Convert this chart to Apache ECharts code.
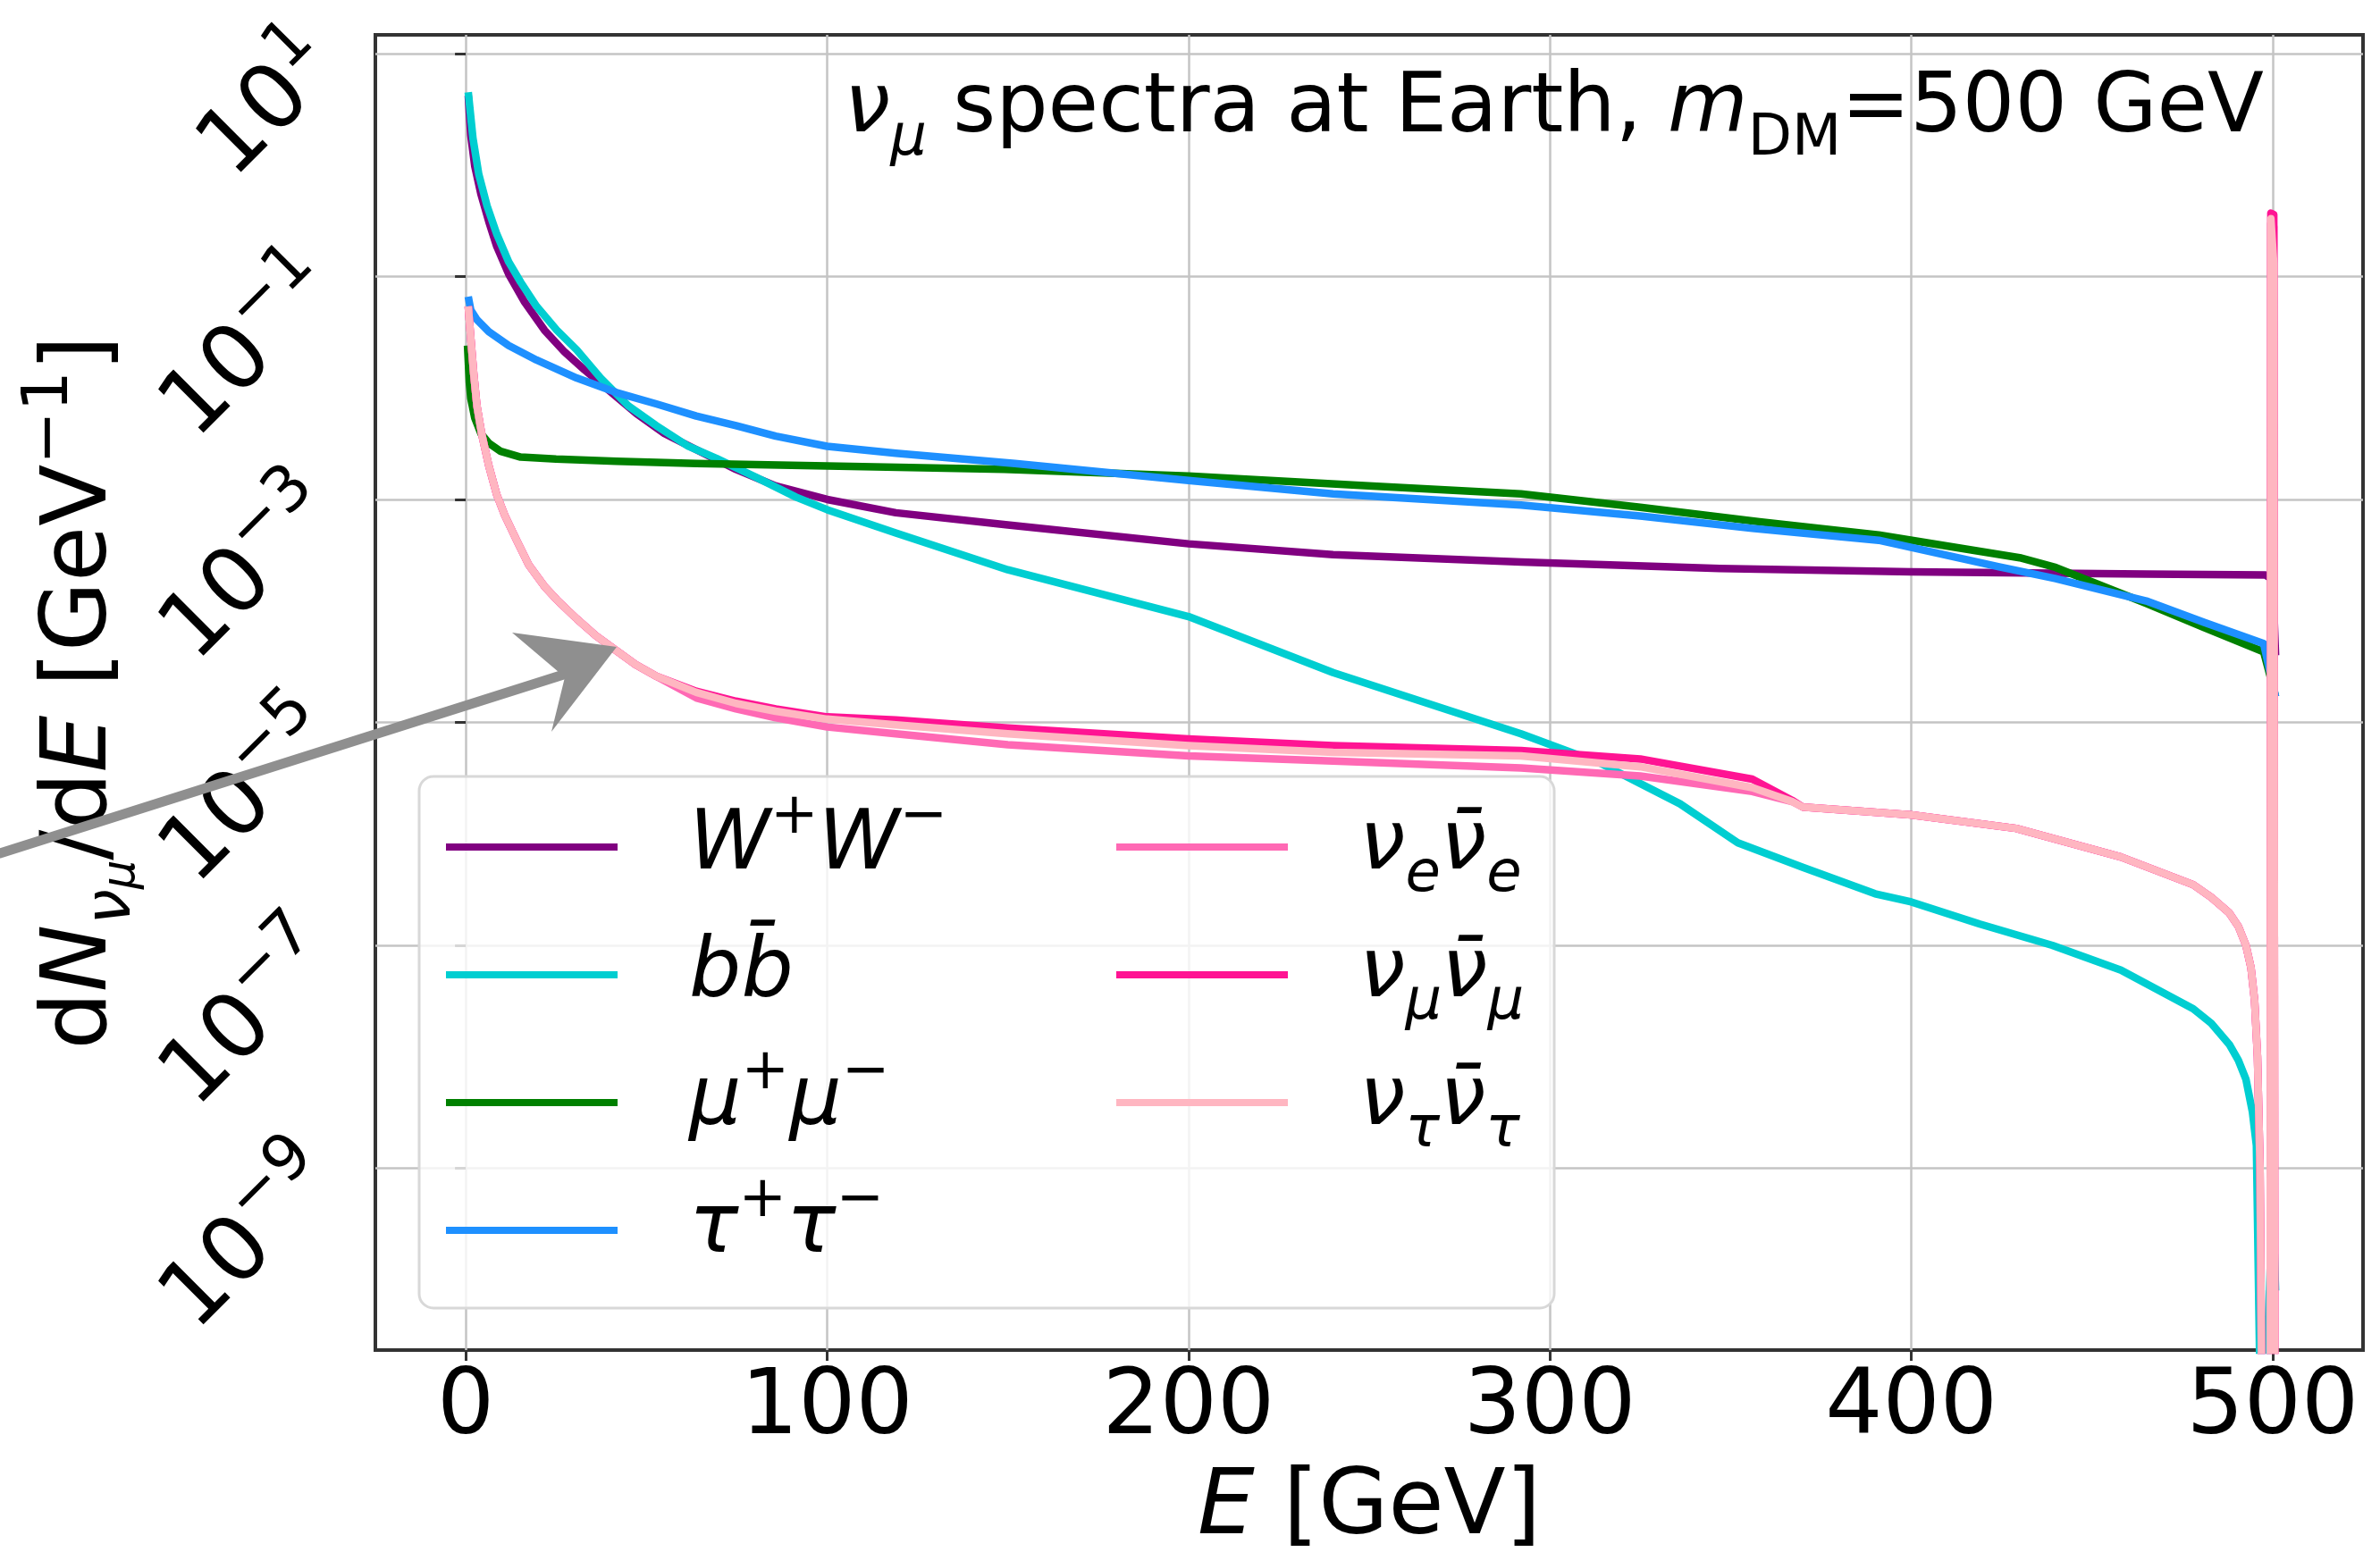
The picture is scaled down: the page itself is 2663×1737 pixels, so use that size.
<!DOCTYPE html>
<html>
<head>
<meta charset="utf-8">
<script src="https://cdn.jsdelivr.net/npm/echarts@6/dist/echarts.min.js"></script>
<style>
html, body { margin: 0; padding: 0; background: #fff; }
#chart { width: 2663px; height: 1737px; }
</style>
</head>
<body>
<div id="chart"></div>
<script>
// E [GeV] and dN/dE [GeV^-1]
var eWW = [0.7, 1.4, 2.5, 4.2, 6.4, 8.6, 11.9, 16.3, 21.8, 27.4, 32.9, 39.5, 47.2, 55, 63.8, 74.8, 85.8, 100,
           119, 150, 200, 240, 292, 347, 400, 465, 498, 500, 500.8];
var yWW = [4.2, 1.86, 0.98, 0.55, 0.31, 0.186, 0.105, 0.059, 0.033, 0.021, 0.0145, 9.6e-3, 5.9e-3, 3.9e-3, 2.8e-3, 1.86e-3, 1.32e-3, 1.0e-3,
           7.6e-4, 5.9e-4, 4.0e-4, 3.2e-4, 2.75e-4, 2.4e-4, 2.24e-4, 2.14e-4, 2.1e-4, 1.9e-4, 4e-5];

var eBB = [0.7, 2.0, 3.6, 5.9, 8.6, 11.9, 15.2, 19.6, 25.2, 30.7, 37.3, 45, 52.7, 61.6, 69.3, 80.3, 91.4, 100,
           119, 150, 200, 240, 292, 314, 336, 352, 370, 390, 400, 419, 439, 458, 478, 483, 488, 490.5, 492.6, 494.4, 495.5,
           497, 500, 500.8];
var yBB = [4.5, 1.74, 0.83, 0.43, 0.24, 0.135, 0.089, 0.054, 0.033, 0.022, 0.0123, 6.9e-3, 4.6e-3, 3.0e-3, 2.34e-3, 1.58e-3, 1.05e-3, 8.1e-4,
           5.0e-4, 2.34e-4, 8.9e-5, 2.8e-5, 7.9e-6, 4.3e-6, 1.86e-6, 8.3e-7, 5.0e-7, 2.9e-7, 2.45e-7, 1.55e-7, 1.0e-7, 6.0e-8, 2.7e-8, 2.0e-8, 1.29e-8, 9.3e-9, 6.3e-9, 3.2e-9, 1.6e-9,
           1e-12, 5e-10, 8e-11];

var eMM = [0.5, 1.0, 1.4, 2.5, 4.2, 6.4, 9.7, 15.2, 25, 41.7, 63.8, 100, 149, 200, 251, 292, 325, 358, 391, 430, 440, 465, 481, 497.5, 500.8];
var yMM = [0.024, 0.0112, 8.1e-3, 5.4e-3, 3.9e-3, 3.2e-3, 2.7e-3, 2.4e-3, 2.3e-3, 2.2e-3, 2.1e-3, 2.0e-3, 1.86e-3, 1.62e-3, 1.32e-3, 1.12e-3,
           8.5e-4, 6.3e-4, 4.8e-4, 3.0e-4, 2.45e-4, 1.17e-4, 7.1e-5, 4.3e-5, 1.7e-5];

var eTT = [0.7, 1.4, 3.1, 6.4, 11.9, 19.6, 30.7, 41.7, 52.7, 63.8, 74.8, 85.8, 100, 119, 152, 200, 240, 292, 325, 356, 391, 424, 440, 465, 481, 497.5, 500.8];
var yTT = [0.066, 0.050, 0.041, 0.032, 0.024, 0.0178, 0.0123, 9.1e-3, 7.2e-3, 5.6e-3, 4.6e-3, 3.7e-3, 3.0e-3, 2.6e-3, 2.1e-3, 1.48e-3, 1.12e-3,
           8.9e-4, 7.1e-4, 5.5e-4, 4.3e-4, 2.5e-4, 1.95e-4, 1.23e-4, 7.9e-5, 5.1e-5, 1.7e-5];

// the three neutrino channels share one energy grid
var eNu = [0.7, 1.4, 2.2, 3.1, 4.4, 6.4, 8.6, 10.8, 14.1, 17.4, 21.8, 25.2, 30.7, 36, 41.7, 47, 52.7,
           63.8, 74.8, 85.8, 100, 119, 150, 200, 240, 292, 325, 356, 367,
           370, 400, 429, 458, 478, 483, 488, 490.5, 492.6, 494, 495, 495.8, 496.5, 497.2, 499.3, 499.5, 500.3, 500.6];
var yNuE = [0.054, 0.028, 0.0135, 6.9e-3, 3.9e-3, 2.0e-3, 1.1e-3, 7.2e-4, 4.3e-4, 2.6e-4, 1.66e-4, 1.26e-4, 8.5e-5, 6.0e-5, 4.4e-5, 3.3e-5, 2.6e-5,
            1.66e-5, 1.32e-5, 1.1e-5, 9.1e-6, 7.9e-6, 6.3e-6, 5.0e-6, 4.5e-6, 3.9e-6, 3.3e-6, 2.4e-6, 1.95e-6,
            1.74e-6, 1.48e-6, 1.12e-6, 6.2e-7, 3.5e-7, 2.7e-7, 1.95e-7, 1.48e-7, 1.0e-7, 6.3e-8, 3.2e-8, 1.0e-8, 1.0e-9, 1e-12, 1e-12, 0.30, 0.28, 1e-12];
var yNuMu = [0.054, 0.028, 0.0135, 6.9e-3, 3.9e-3, 2.0e-3, 1.1e-3, 7.2e-4, 4.3e-4, 2.6e-4, 1.66e-4, 1.26e-4, 8.5e-5, 6.0e-5, 4.4e-5, 3.3e-5, 2.6e-5,
             1.9e-5, 1.55e-5, 1.32e-5, 1.12e-5, 1.05e-5, 8.9e-6, 7.1e-6, 6.2e-6, 5.6e-6, 4.7e-6, 3.1e-6, 2.0e-6,
             1.74e-6, 1.48e-6, 1.12e-6, 6.2e-7, 3.5e-7, 2.7e-7, 1.95e-7, 1.48e-7, 1.0e-7, 6.3e-8, 3.2e-8, 1.0e-8, 1.0e-9, 1e-12, 1e-12, 0.37, 0.36, 1e-12];
var yNuTau = [0.054, 0.028, 0.0135, 6.9e-3, 3.9e-3, 2.0e-3, 1.1e-3, 7.2e-4, 4.3e-4, 2.6e-4, 1.66e-4, 1.26e-4, 8.5e-5, 6.0e-5, 4.4e-5, 3.3e-5, 2.6e-5,
              1.86e-5, 1.48e-5, 1.26e-5, 1.07e-5, 9.5e-6, 7.9e-6, 6.2e-6, 5.4e-6, 5.0e-6, 4.0e-6, 2.6e-6, 1.95e-6,
              1.74e-6, 1.48e-6, 1.12e-6, 6.2e-7, 3.5e-7, 2.7e-7, 1.95e-7, 1.48e-7, 1.0e-7, 6.3e-8, 3.2e-8, 1.0e-8, 1.0e-9, 1e-12, 1e-12, 0.33, 0.13, 1e-12];

var xTicks = [0, 100, 200, 300, 400, 500];
var yTicks = [1e1, 1e-1, 1e-3, 1e-5, 1e-7, 1e-9];

var FONT = 'DejaVu Sans';

// rich styles: base text, italic, super/subscripts
function richSet(F) {
	var L = Math.round(F * 1.4), s = Math.round(F * 0.7);
	var base = { fontFamily: FONT, fontSize: F, lineHeight: L, color: '#000', fontWeight: 'normal' };
	return {
		t: base,
		i: Object.assign({}, base, { fontStyle: 'italic' }),
		i0: Object.assign({}, base, { fontStyle: 'italic', padding: [0, 0, 0, 75] }),
		sup: { fontFamily: FONT, fontSize: s, lineHeight: s, verticalAlign: 'top', color: '#000' },
		sub: { fontFamily: FONT, fontSize: s, lineHeight: s, verticalAlign: 'bottom', color: '#000' },
		si: { fontFamily: FONT, fontSize: s, lineHeight: s, verticalAlign: 'bottom', fontStyle: 'italic', color: '#000' },
		ss: { fontFamily: FONT, fontSize: Math.round(F * 0.5), lineHeight: Math.round(F * 0.4), verticalAlign: 'bottom', fontStyle: 'italic', color: '#000' }
	};
}

var legendLabels = {
	'WW': '{i0|W}{sup|+}{i|W}{sup|−}',
	'bb': '{i0|b}{i|b\u0304}',
	'mumu': '{i0|μ}{sup|+}{i|μ}{sup|−}',
	'tautau': '{i0|τ}{sup|+}{i|τ}{sup|−}',
	'nue': '{i0|ν}{si|e}{i|ν\u0304}{si|e}',
	'numu': '{i0|ν}{si|μ}{i|ν\u0304}{si|μ}',
	'nutau': '{i0|ν}{si|τ}{i|ν\u0304}{si|τ}'
};

function pairs(xs, ys) {
	return xs.map(function (x, i) { return [x, ys[i]]; });
}

function line(name, color, xs, ys) {
	return {
		name: name, type: 'line', data: pairs(xs, ys),
		symbol: 'none', showSymbol: false, smooth: false, clip: true,
		lineStyle: { color: color, width: 8.5, join: 'round' },
		itemStyle: { color: color }
	};
}

// legend handle: 8px bar centred in a 192x143 box, so every row is 143px tall
var ROW = 143;
var legendIcon = 'path://M0,0M0,' + ROW + 'M0,' + (ROW / 2 - 4) + 'H192V' + (ROW / 2 + 4) + 'H0Z';

function legendCol(names, left) {
	return {
		data: names, orient: 'vertical', left: left, top: 948 - ROW / 2, padding: 0,
		icon: legendIcon, itemWidth: 192, itemHeight: ROW, itemGap: 0,
		selectedMode: false, z: 5,
		formatter: function (n) { return legendLabels[n]; },
		textStyle: { fontFamily: FONT, fontSize: 92, color: '#000', rich: richSet(92) }
	};
}

var chart = echarts.init(document.getElementById('chart'));

var option = {
	animation: false,
	backgroundColor: '#fff',
	title: {
		text: '{i|ν}{si|μ}{t| spectra at Earth, }{i|m}{sub|DM}{t|=500 GeV}',
		right: 130, top: 59, padding: 0,
		textStyle: { fontFamily: FONT, fontSize: 92, fontWeight: 'normal', color: '#000', rich: richSet(92) }
	},
	grid: {
		left: 420, right: 19, top: 39, bottom: 226,
		containLabel: false, outerBoundsMode: 'none',
		show: true, borderColor: '#333', borderWidth: 4, backgroundColor: 'transparent'
	},
	legend: [
		legendCol(['WW', 'bb', 'mumu', 'tautau'], 499),
		legendCol(['nue', 'numu', 'nutau'], 1249)
	],
	xAxis: {
		type: 'value', min: -25, max: 525,
		name: '{i|E} [GeV]', nameLocation: 'middle', nameGap: 124, nameMoveOverlap: false,
		nameTextStyle: { fontFamily: FONT, fontSize: 101, lineHeight: 110, color: '#000',
			rich: { i: { fontFamily: FONT, fontSize: 101, lineHeight: 110, fontStyle: 'italic', color: '#000' } } },
		axisLine: { show: false },
		axisTick: { show: true, customValues: xTicks, length: 12, lineStyle: { color: '#333', width: 3 } },
		axisLabel: { customValues: xTicks, margin: 16, fontFamily: FONT, fontSize: 101, lineHeight: 101, color: '#000' },
		splitLine: { show: true, lineStyle: { color: '#c4c4c4', width: 2.5 } }
	},
	yAxis: {
		type: 'log', logBase: 10, min: Math.pow(10, -10.631), max: Math.pow(10, 1.168),
		name: '{t|d}{i|N}{si|ν}{ss|μ}{t|/d}{i|E}{t| [GeV}{sup|−1}{t|]}',
		nameLocation: 'middle', nameRotate: 90, nameGap: 258, nameMoveOverlap: false,
		nameTextStyle: { fontFamily: FONT, fontSize: 101, color: '#000', rich: richSet(101) },
		axisLine: { show: false },
		axisTick: { show: true, customValues: yTicks, length: 12, lineStyle: { color: '#333', width: 3 } },
		axisLabel: {
			customValues: yTicks, rotate: 45, margin: 55, color: '#000',
			fontFamily: FONT, fontSize: 101, rich: richSet(101),
			formatter: function (v) {
				var p = Math.round(Math.log10(v));
				return '{t|10}{sup|' + (p < 0 ? '−' + (-p) : p) + '}';
			}
		},
		splitLine: { show: true, lineStyle: { color: '#c4c4c4', width: 2.5 } }
	},
	series: [
		line('WW', '#800080', eWW, yWW),
		line('bb', '#00CED1', eBB, yBB),
		line('mumu', '#008000', eMM, yMM),
		line('tautau', '#1E90FF', eTT, yTT),
		line('nue', '#FF69B4', eNu, yNuE),
		line('numu', '#FF1493', eNu, yNuMu),
		line('nutau', '#FFB6C1', eNu, yNuTau)
	],
	graphic: [
		// legend frame
		{ type: 'rect', z: 3, shape: { x: 469, y: 869, width: 1270, height: 595, r: 16 },
		  style: { fill: 'rgba(255,255,255,0.8)', stroke: '#d8d8d8', lineWidth: 3 } },
		// grey hand-drawn arrow
		{ type: 'polyline', z: 20, shape: { points: [[0, 955], [640, 752]] },
		  style: { stroke: '#8f8f8f', lineWidth: 11, lineCap: 'round', fill: null } },
		{ type: 'polygon', z: 20, shape: { points: [[573, 708], [690, 724], [617, 819], [632, 758]] },
		  style: { fill: '#8f8f8f' } }
	]
};

chart.setOption(option);
</script>
</body>
</html>
